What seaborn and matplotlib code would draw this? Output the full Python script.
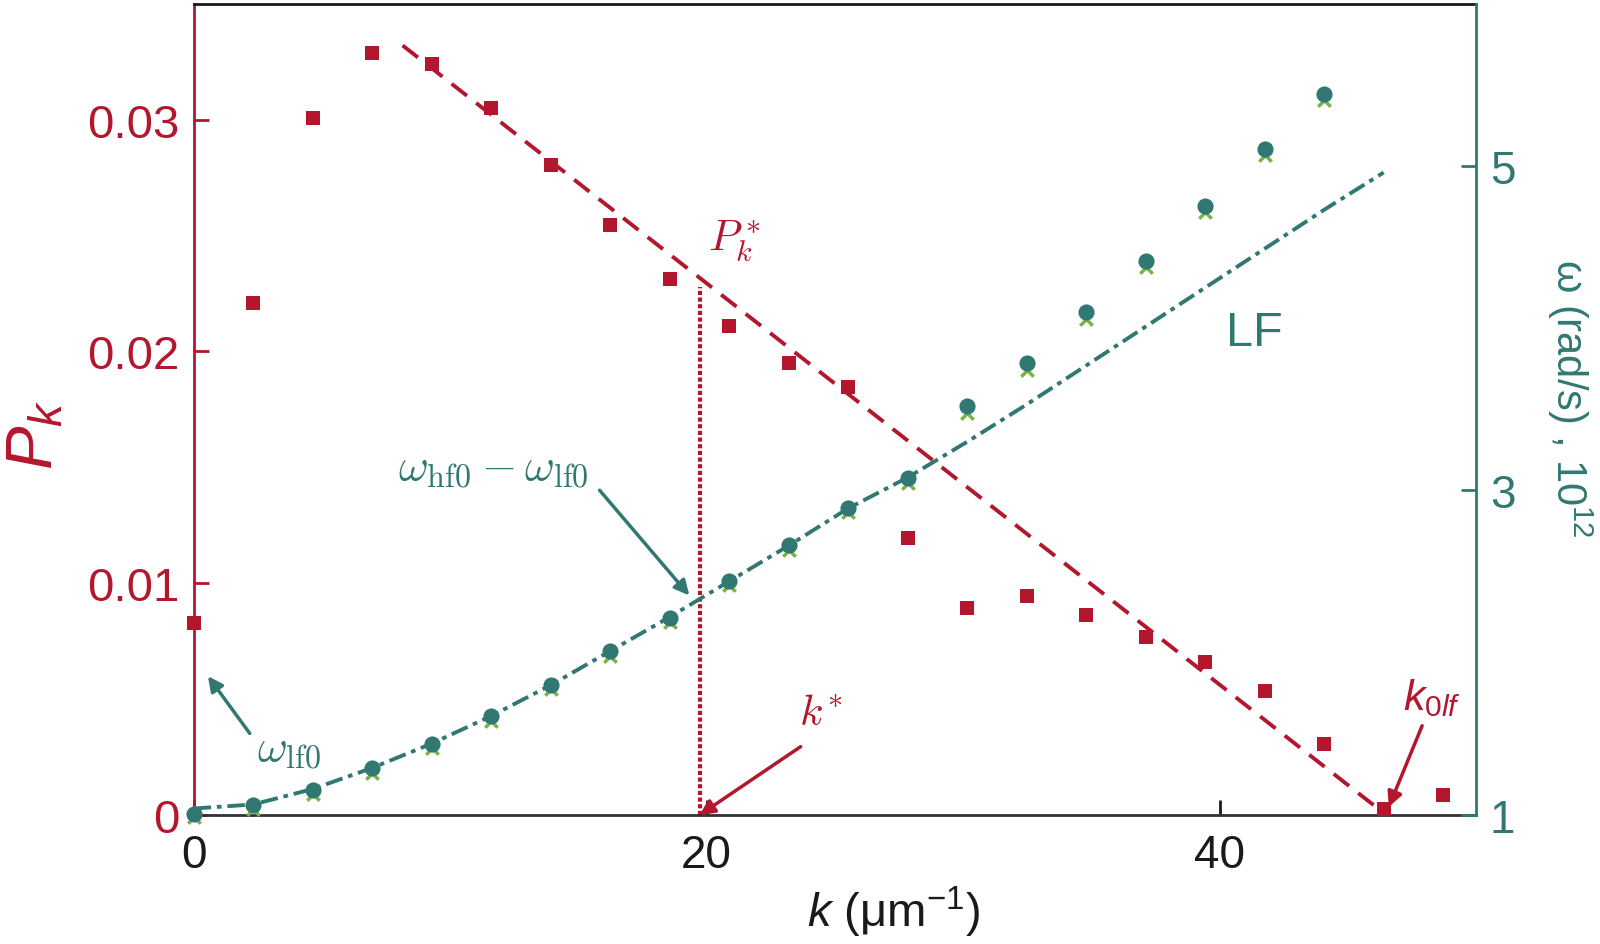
import seaborn as sns
import matplotlib.pyplot as plt

# data
k = [0, 2.32, 4.64, 6.96, 9.28, 11.6, 13.92, 16.24, 18.56, 20.88, 23.2,
     25.52, 27.84, 30.16, 32.48, 34.8, 37.12, 39.44, 41.76, 44.08, 46.4, 48.72]
pk = [0.00828, 0.02207, 0.03009, 0.03286, 0.03242, 0.03048, 0.02806, 0.02546,
      0.02313, 0.0211, 0.01952, 0.01846, 0.01194, 0.00894, 0.00943, 0.00863,
      0.00767, 0.00661, 0.00537, 0.00308, 0.00026, 0.00088]

# omega (1e12 rad/s), circles and crosses, first 20 k values
omega_sim = [1.006, 1.063, 1.157, 1.288, 1.439, 1.608, 1.803, 2.009, 2.216, 2.442,
             2.661, 2.893, 3.075, 3.520, 3.784, 4.097, 4.417, 4.755, 5.107, 5.445]
omega_x = [0.985, 1.04, 1.13, 1.26, 1.41, 1.58, 1.775, 1.98, 2.19, 2.415,
           2.635, 2.865, 3.045, 3.478, 3.745, 4.055, 4.375, 4.715, 5.065, 5.405]
# LF dispersion line (dash-dot)
omega_lf = [1.04, 1.065, 1.16, 1.29, 1.44, 1.61, 1.80, 2.01, 2.22, 2.44, 2.66,
            2.89, 3.08, 3.30, 3.53, 3.77, 4.01, 4.25, 4.49, 4.73, 4.96]

# linear fit of P_k
fit_k = [8.15, 46.5]
fit_p = [0.0332, 0.0]
k_star = 19.73
p_star = 0.0228

RED = '#b3172d'
TEAL = '#317873'
GREEN = '#7bb342'

sns.set_style('white')
plt.rcParams['font.family'] = ['Liberation Sans', 'DejaVu Sans']
plt.rcParams['mathtext.fontset'] = 'custom'
plt.rcParams['mathtext.rm'] = 'Liberation Sans'
plt.rcParams['mathtext.it'] = 'Liberation Sans:italic'
plt.rcParams['mathtext.bf'] = 'Liberation Sans:bold'

fig, ax = plt.subplots(figsize=(16, 9.45), dpi=100)
fig.subplots_adjust(left=0.121, right=0.9225, top=0.995, bottom=0.1365)
ax2 = ax.twinx()

# P_k side
sns.lineplot(x=fit_k, y=fit_p, ax=ax, color=RED, lw=2.8, linestyle=(0, (5, 3)),
             estimator=None, sort=False, zorder=2)
sns.lineplot(x=[k_star, k_star], y=[0, p_star], ax=ax, color=RED, lw=3,
             linestyle=(0, (1, 0.6)), estimator=None, sort=False, zorder=2)
sns.scatterplot(x=k, y=pk, ax=ax, marker='s', s=105, color=RED, linewidth=0,
                zorder=3, clip_on=False)

# omega side
sns.lineplot(x=k[:21], y=omega_lf, ax=ax2, color=TEAL, lw=2.8,
             linestyle=(0, (4.5, 1.5, 1.2, 1.5)), estimator=None, sort=False, zorder=2)
sns.scatterplot(x=k[:20], y=omega_x, ax=ax2, marker='x', s=80, color=GREEN,
                linewidth=2.5, zorder=3, clip_on=False)
sns.scatterplot(x=k[:20], y=omega_sim, ax=ax2, marker='o', s=135, color=TEAL,
                linewidth=0, zorder=4, clip_on=False)

ax.set_xlim(0, 50)
ax.set_ylim(0, 0.035)
ax2.set_ylim(1, 6)
ax.set_xticks([0, 20, 40])
ax.set_yticks([0, 0.01, 0.02, 0.03])
ax.set_yticklabels(['0', '0.01', '0.02', '0.03'])
ax2.set_yticks([1, 3, 5])

for s in ['left', 'right', 'top', 'bottom']:
    ax.spines[s].set_linewidth(2)
    ax2.spines[s].set_linewidth(2)
ax.spines['left'].set_color(RED)
ax.spines['right'].set_visible(False)
ax.spines['top'].set_color('#1a1a1a')
ax.spines['bottom'].set_color('#333333')
for s in ['left', 'top', 'bottom']:
    ax2.spines[s].set_visible(False)
ax2.spines['right'].set_color(TEAL)

ax.tick_params(axis='x', direction='in', length=11, width=2, labelsize=33, pad=13,
               colors='#1a1a1a', bottom=True, top=False)
ax.tick_params(axis='y', direction='in', length=11, width=2, labelsize=34, pad=10,
               colors=RED, left=True)
ax2.tick_params(axis='y', direction='in', length=11, width=2, labelsize=33, pad=10,
                colors=TEAL, right=True)

ax.set_xlabel('$k$ (μm$^{-1}$)', fontsize=34, color='#1a1a1a')
ax.xaxis.set_label_coords(0.546, -0.085)
ax.set_ylabel('$P_k$', fontsize=47, color=RED)
ax.yaxis.set_label_coords(-0.100, 0.47)
ax2.set_ylabel('ω (rad/s) , 10$^{12}$', fontsize=30, color=TEAL, rotation=-90, va='bottom')
ax2.yaxis.set_label_coords(1.054, 0.515)

# annotations
ax.text(21.1, 0.0248, r'$P_k^*$', fontsize=31, color=RED, ha='center', va='center',
        math_fontfamily='cm')
ax.text(11.7, 0.0150, r'$\omega_\mathrm{hf0} - \omega_\mathrm{lf0}$', fontsize=33,
        color=TEAL, ha='center', va='center', math_fontfamily='cm')
ax.text(3.7, 0.0029, r'$\omega_\mathrm{lf0}$', fontsize=33, color=TEAL,
        ha='center', va='center', math_fontfamily='cm')
ax.text(24.46, 0.0044, r'$k^{\!*}$', fontsize=31, color=RED, ha='center', va='center',
        math_fontfamily='cm')
ax.text(48.3, 0.0051, r'$k_{0lf}$', fontsize=31, color=RED, ha='center', va='center')
ax.text(41.37, 0.0208, 'LF', fontsize=35, color=TEAL, ha='center', va='center')

arrows = [((15.83, 0.01401), (19.33, 0.00947), TEAL),
          ((2.19, 0.00352), (0.56, 0.00599), TEAL),
          ((23.67, 0.00295), (19.73, 0.0), RED),
          ((47.9, 0.00385), (46.6, 0.00035), RED)]
for start, end, c in arrows:
    ax.annotate('', xy=end, xytext=start, annotation_clip=False,
                arrowprops=dict(arrowstyle='-|>', color=c, lw=2.5,
                                mutation_scale=22, shrinkA=0, shrinkB=0))

fig.savefig('out.png', dpi=100)
